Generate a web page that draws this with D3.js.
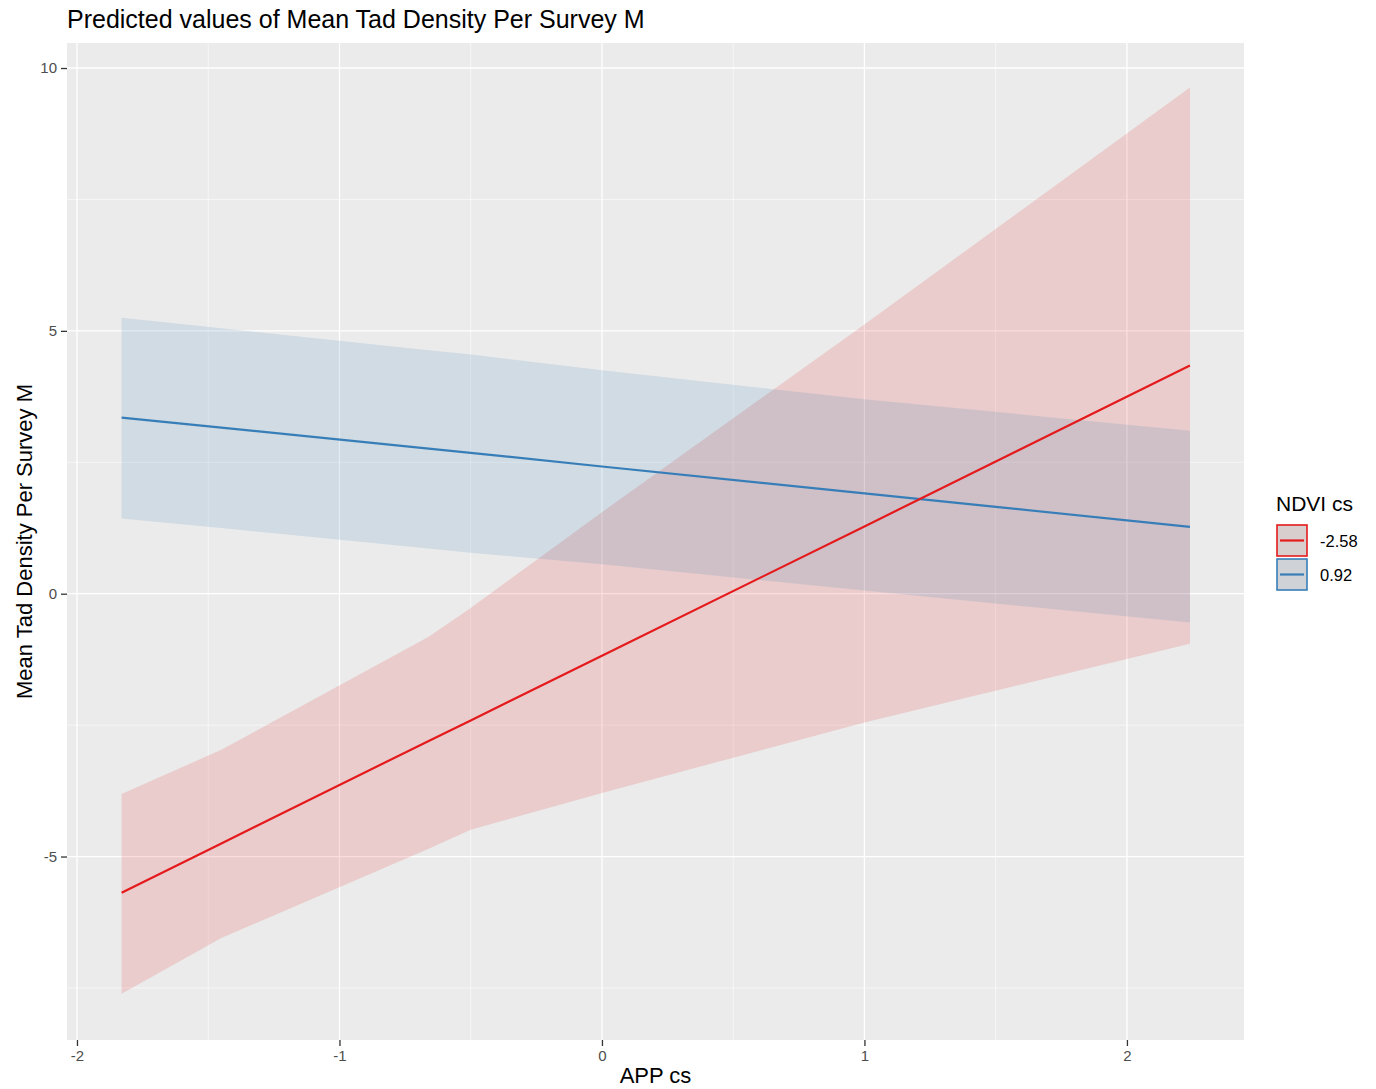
<!DOCTYPE html>
<html>
<head>
    <meta charset="utf-8">
    <title>Predicted values of Mean Tad Density Per Survey M</title>
    <script src="https://d3js.org/d3.v7.min.js"></script>
    <style>
        body { margin: 0; background: #fff; }
        text { font-family: "Liberation Sans", Arial, sans-serif; }
        .axis-title { fill: #000; font-size: 22px; }
        .chart-title { fill: #000; font-size: 25px; }
    </style>
</head>
<body>
<div id="chart"></div>
<script>
    // data
    const appCs = [-1.83, -1.45, -0.66, -0.5, 0, 1, 2.24];
    const groups = ["-2.58", "0.92"];
    const colors = ["#e41a1c", "#377eb8"];

    const predRed  = [-5.69, -4.75, -2.80, -2.41, -1.18, 1.28, 4.34];
    const lowRed   = [-7.61, -6.55, -4.85, -4.49, -3.79, -2.45, -0.95];
    const highRed  = [-3.81, -2.97, -0.82, -0.27, 1.55, 5.12, 9.63];

    const predBlue = [3.35, 3.16, 2.76, 2.68, 2.42, 1.91, 1.27];
    const lowBlue  = [1.43, 1.25, 0.86, 0.78, 0.56, 0.06, -0.55];
    const highBlue = [5.25, 5.05, 4.63, 4.55, 4.25, 3.70, 3.10];

    const xTicks = [-2, -1, 0, 1, 2];
    const yTicks = [-5, 0, 5, 10];
    const xMinor = [-1.5, -0.5, 0.5, 1.5];
    const yMinor = [-7.5, -2.5, 2.5, 7.5];

    const series = [
        { name: groups[0], color: colors[0], pred: predRed, low: lowRed, high: highRed },
        { name: groups[1], color: colors[1], pred: predBlue, low: lowBlue, high: highBlue }
    ];

    const W = 1376, H = 1089;
    const panel = { left: 67, top: 43, right: 1244, bottom: 1040 };

    const svg = d3.select("#chart").append("svg")
        .attr("width", W)
        .attr("height", H);

    // scales
    const x = d3.scaleLinear()
        .domain([-2.038, 2.446])
        .range([panel.left, panel.right]);
    const y = d3.scaleLinear()
        .domain([-8.49, 10.476])
        .range([panel.bottom, panel.top]);

    // panel background
    svg.append("rect")
        .attr("x", panel.left)
        .attr("y", panel.top)
        .attr("width", panel.right - panel.left)
        .attr("height", panel.bottom - panel.top)
        .attr("fill", "#ebebeb");

    const grid = svg.append("g");
    grid.selectAll(".xminor").data(xMinor).enter().append("line")
        .attr("x1", d => x(d)).attr("x2", d => x(d))
        .attr("y1", panel.top).attr("y2", panel.bottom)
        .attr("stroke", "#fff").attr("stroke-width", 0.6);
    grid.selectAll(".yminor").data(yMinor).enter().append("line")
        .attr("y1", d => y(d)).attr("y2", d => y(d))
        .attr("x1", panel.left).attr("x2", panel.right)
        .attr("stroke", "#fff").attr("stroke-width", 0.6);
    grid.selectAll(".xmajor").data(xTicks).enter().append("line")
        .attr("x1", d => x(d)).attr("x2", d => x(d))
        .attr("y1", panel.top).attr("y2", panel.bottom)
        .attr("stroke", "#fff").attr("stroke-width", 1.3);
    grid.selectAll(".ymajor").data(yTicks).enter().append("line")
        .attr("y1", d => y(d)).attr("y2", d => y(d))
        .attr("x1", panel.left).attr("x2", panel.right)
        .attr("stroke", "#fff").attr("stroke-width", 1.3);

    // ribbons
    const area = d3.area()
        .x((d, i) => x(appCs[i]))
        .y0(d => y(d[0]))
        .y1(d => y(d[1]));

    series.forEach(s => {
        svg.append("path")
            .datum(s.low.map((v, i) => [v, s.high[i]]))
            .attr("d", area)
            .attr("fill", s.color)
            .attr("fill-opacity", 0.15);
    });

    // lines
    const line = d3.line()
        .x((d, i) => x(appCs[i]))
        .y(d => y(d));

    series.slice().reverse().forEach(s => {
        svg.append("path")
            .datum(s.pred)
            .attr("d", line)
            .attr("fill", "none")
            .attr("stroke", s.color)
            .attr("stroke-width", 2.2);
    });

    // axes (plain hyphen for negatives, like the original)
    const fmt = d => String(d);
    const xAxis = svg.append("g")
        .attr("transform", `translate(0,${panel.bottom})`)
        .call(d3.axisBottom(x).tickValues(xTicks).tickSize(6).tickPadding(4).tickFormat(fmt));
    const yAxis = svg.append("g")
        .attr("transform", `translate(${panel.left},0)`)
        .call(d3.axisLeft(y).tickValues(yTicks).tickSize(6).tickPadding(4).tickFormat(fmt));

    [xAxis, yAxis].forEach(ax => {
        ax.attr("font-size", 15).attr("font-family", null);
        ax.select(".domain").remove();
        ax.selectAll(".tick line").attr("stroke", "#333").attr("stroke-width", 1.3);
        ax.selectAll(".tick text").attr("fill", "#4d4d4d").style("font-size", "15px");
    });

    // titles
    svg.append("text")
        .attr("class", "chart-title")
        .attr("x", panel.left)
        .attr("y", 28)
        .text("Predicted values of Mean Tad Density Per Survey M");

    svg.append("text")
        .attr("class", "axis-title")
        .attr("x", (panel.left + panel.right) / 2)
        .attr("y", 1083)
        .attr("text-anchor", "middle")
        .text("APP cs");

    svg.append("text")
        .attr("class", "axis-title")
        .attr("transform", `translate(32,${(panel.top + panel.bottom) / 2}) rotate(-90)`)
        .attr("text-anchor", "middle")
        .text("Mean Tad Density Per Survey M");

    // legend
    const legend = svg.append("g").attr("transform", "translate(1276,0)");
    legend.append("text")
        .attr("class", "axis-title")
        .style("font-size", "21px")
        .attr("x", 0)
        .attr("y", 511)
        .text("NDVI cs");

    series.forEach((s, i) => {
        const ky = 525 + i * 34;
        const g = legend.append("g").attr("transform", `translate(1,${ky})`);
        g.append("rect")
            .attr("width", 30).attr("height", 31)
            .attr("fill", "#d9d9d9");
        g.append("rect")
            .attr("width", 30).attr("height", 31)
            .attr("fill", s.color).attr("fill-opacity", 0.06)
            .attr("stroke", s.color).attr("stroke-width", 1.6);
        g.append("line")
            .attr("x1", 3).attr("x2", 27)
            .attr("y1", 15.5).attr("y2", 15.5)
            .attr("stroke", s.color).attr("stroke-width", 2.2);
        legend.append("text")
            .attr("x", 44)
            .attr("y", ky + 22)
            .attr("font-size", 16.5)
            .attr("fill", "#000")
            .text(s.name);
    });
</script>
</body>
</html>
